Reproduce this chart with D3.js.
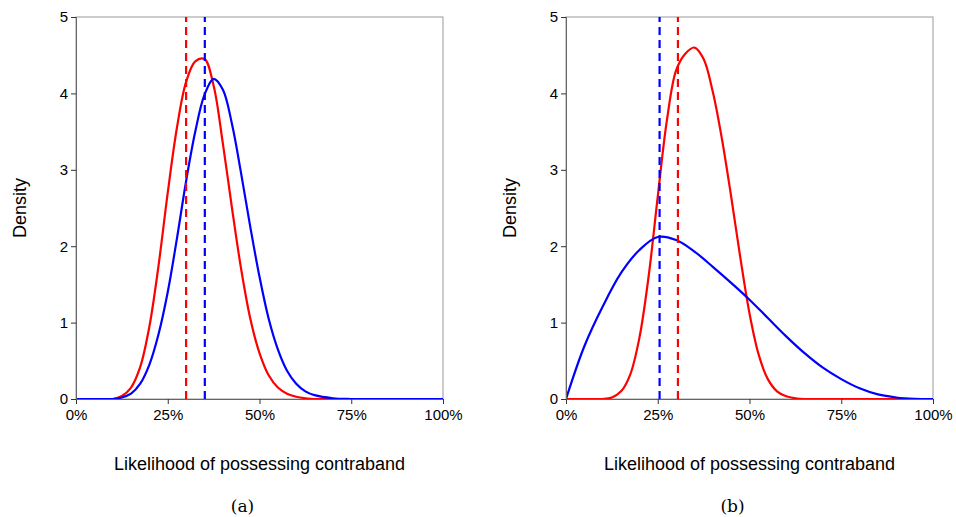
<!DOCTYPE html>
<html><head><meta charset="utf-8">
<script src="https://cdn.jsdelivr.net/npm/d3@7"></script>
<style>body{margin:0;background:#fff}</style></head>
<body><svg id="c" width="956" height="517"></svg>
<script>
const xsA = [0,0.05,0.1,0.125,0.15,0.175,0.2,0.225,0.25,0.275,0.3,0.325,0.35,0.375,0.4,0.425,0.45,0.475,0.5,0.525,0.55,0.575,0.6,0.625,0.65,0.7,0.75,1];
const redA = [0,0,0,0.04,0.15,0.42,0.95,1.75,2.7,3.55,4.15,4.42,4.45,4.1,3.35,2.5,1.7,1.05,0.6,0.31,0.15,0.07,0.03,0.01,0,0,0,0];
const blueA = [0,0,0,0.02,0.07,0.2,0.45,0.85,1.4,2.1,2.85,3.5,3.98,4.19,4.05,3.6,2.95,2.25,1.6,1.05,0.65,0.37,0.2,0.1,0.05,0.01,0,0];
const xsBr = [0,0.05,0.1,0.125,0.15,0.175,0.2,0.225,0.25,0.275,0.3,0.325,0.35,0.375,0.4,0.425,0.45,0.475,0.5,0.525,0.55,0.575,0.6,0.625,0.65,0.7,1];
const redB = [0,0,0,0.02,0.1,0.32,0.8,1.6,2.65,3.65,4.3,4.52,4.6,4.45,4.02,3.4,2.65,1.85,1.12,0.58,0.26,0.1,0.035,0.01,0,0,0];
const xsBb = [0,0.05,0.1,0.15,0.2,0.25,0.3,0.35,0.4,0.45,0.5,0.55,0.6,0.65,0.7,0.75,0.8,0.85,0.9,0.95,1];
const blueB = [0,0.69,1.21,1.65,1.95,2.12,2.08,1.93,1.73,1.52,1.3,1.06,0.82,0.6,0.41,0.26,0.14,0.06,0.02,0.003,0];
const meansA = {red:0.30, blue:0.351};
const meansB = {red:0.305, blue:0.255};
const yTicks = [0,1,2,3,4,5];
const xTicks = [0,0.25,0.5,0.75,1];
const xLabel = "Likelihood of possessing contraband";
const panels = [
 {x0:76, label:"(a)", red:[xsA,redA], blue:[xsA,blueA], means:meansA},
 {x0:566, label:"(b)", red:[xsBr,redB], blue:[xsBb,blueB], means:meansB}
];
const svg = d3.select("#c");
const W = 367, pTop = 17, pBot = 399;
const y = d3.scaleLinear().domain([0,5]).range([pBot, pTop]);
panels.forEach(p => {
  const x = d3.scaleLinear().domain([0,1]).range([p.x0, p.x0+W]);
  const g = svg.append("g");
  g.append("clipPath").attr("id","clip"+p.x0).append("rect").attr("x",p.x0).attr("y",pTop-5).attr("width",W).attr("height",pBot-pTop+5);
  g.append("rect").attr("x",p.x0).attr("y",pTop).attr("width",W).attr("height",pBot-pTop)
   .attr("fill","none").attr("stroke","#999").attr("stroke-width",1);
  const line = d3.line().x(d=>x(d[0])).y(d=>y(d[1])).curve(d3.curveCatmullRom.alpha(0.5));
  [["red",p.red],["blue",p.blue]].forEach(([c,[xs,ys]]) => {
    g.append("path").attr("d", line(xs.map((v,i)=>[v,ys[i]]))).attr("fill","none")
     .attr("clip-path",`url(#clip${p.x0})`)
     .attr("stroke", c==="red"?"#f00":"#00f").attr("stroke-width",2.2);
  });
  ["red","blue"].forEach(c => {
    g.append("line").attr("x1",x(p.means[c])).attr("x2",x(p.means[c])).attr("y1",y(0)).attr("y2",y(5))
     .attr("stroke", c==="red"?"#f00":"#00f").attr("stroke-width",2.2).attr("stroke-dasharray","8,5");
  });
  const ax = g.append("g").attr("transform",`translate(0,${pBot})`)
    .call(d3.axisBottom(x).tickValues(xTicks).tickFormat(d3.format(".0%")).tickSizeOuter(0).tickSize(5));
  const ay = g.append("g").attr("transform",`translate(${p.x0},0)`)
    .call(d3.axisLeft(y).tickValues(yTicks).tickFormat(d3.format("d")).tickSizeOuter(0).tickSize(5));
  [ax,ay].forEach(a=>{a.selectAll("text").attr("font-family","Liberation Sans, Arial").attr("font-size",15).attr("fill","#000");
    a.select(".domain").attr("stroke","#666"); a.selectAll(".tick line").attr("stroke","#333");});
  ax.selectAll("text").attr("dy","0.85em");
  g.append("text").attr("x",p.x0+W/2).attr("y",470).attr("text-anchor","middle")
   .attr("font-family","Liberation Sans, Arial").attr("font-size",18).text(xLabel);
  g.append("text").attr("transform",`translate(${p.x0-50},${(pTop+pBot)/2}) rotate(-90)`).attr("text-anchor","middle")
   .attr("font-family","Liberation Sans, Arial").attr("font-size",18).text("Density");
  g.append("text").attr("x",p.x0+W/2-17).attr("y",512).attr("text-anchor","middle")
   .attr("font-family","DejaVu Serif, Liberation Serif").attr("font-size",17).text(p.label);
});
</script></body></html>
